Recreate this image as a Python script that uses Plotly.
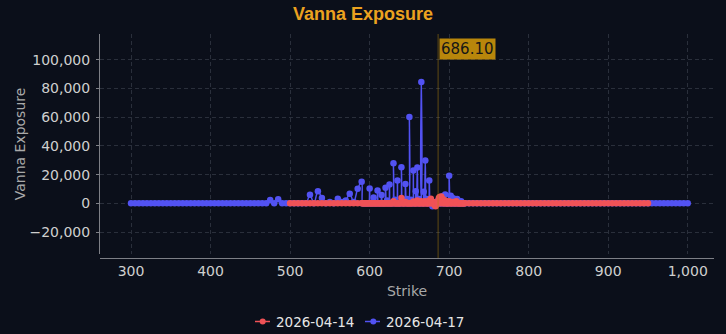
import plotly.graph_objects as go

# ---- data ----
spot_price = 686.10

# 2026-04-17 (blue): strike grid
blue_low_strikes = list(range(300, 590, 5))
blue_mid_strikes = list(range(590, 721, 1))
blue_high_strikes = list(range(725, 1001, 5))
# non-zero exposures (strike -> value); every other strike reads as 0
blue_nonzero_strikes = [475, 485, 525, 535, 540, 550, 560, 565, 570, 575, 580, 585, 590,
                        600, 605, 610, 615, 620, 622, 625, 630, 632, 635, 640, 642, 645,
                        647, 650, 652, 655, 658, 660, 662, 665, 668, 670, 672, 675, 677,
                        679, 685, 690, 692, 695, 700, 702, 705, 710, 715]
blue_nonzero_values = [2400, 2800, 5900, 8500, 3700, 1000, 3200, 1000, 2000, 6700, 1000, 10200, 15000,
                       10400, 4000, 9000, 5800, 10900, 2000, 13200, 28000, 2500, 16000, 25200, 2000, 13400,
                       3000, 60200, 2500, 22900, 8500, 25000, 3000, 84500, 8000, 29900, 3000, 16000, 2000,
                       -2000, 1500, 3500, 5000, 6200, 19200, 5300, 3500, 3000, 1500]

# 2026-04-14 (red): strike grid
red_low_strikes = list(range(500, 590, 5))
red_mid_strikes = list(range(590, 721, 1))
red_high_strikes = list(range(725, 951, 5))
red_nonzero_strikes = [630, 640, 645, 655, 660, 665, 670, 675, 677, 680, 682, 683, 685,
                       687, 688, 690, 692, 695, 700, 705, 709]
red_nonzero_values = [1500, 3700, 1000, 1200, 2000, 1500, 1500, 2000, 3200, 1000, -1500, -2000, 1000,
                      3500, 4500, 4800, 3000, 2000, 1500, 1000, 1500]

series_names = ["2026-04-14", "2026-04-17"]
x_tick_values = [300, 400, 500, 600, 700, 800, 900, 1000]
y_tick_values = [-20000, 0, 20000, 40000, 60000, 80000, 100000]

# ---- build series ----
blue_strikes = blue_low_strikes + blue_mid_strikes + blue_high_strikes
blue_map = dict(zip(blue_nonzero_strikes, blue_nonzero_values))
blue_values = [blue_map.get(s, 0) for s in blue_strikes]

red_strikes = red_low_strikes + red_mid_strikes + red_high_strikes
red_map = dict(zip(red_nonzero_strikes, red_nonzero_values))
red_values = [red_map.get(s, 0) for s in red_strikes]

BG = "#0b0f1a"
GRID = "#2a2f3b"
FONT = "DejaVu Sans"
BLUE = "#5252f2"
RED = "#f05257"
colors = [RED, BLUE]

W, H = 726, 334
ml, mr, mt, mb = 100, 12, 34, 76
plot_w = W - ml - mr
plot_h = H - mt - mb


def px_x(p):
    return (p - ml) / plot_w


def px_y(p):
    return (H - mb - p) / plot_h


fig = go.Figure()
fig.add_trace(go.Scatter(
    x=blue_strikes, y=blue_values, name=series_names[1],
    mode="lines+markers", line=dict(color=BLUE, width=1.5, shape="spline"),
    marker=dict(color=BLUE, size=6.5), showlegend=False,
))
fig.add_trace(go.Scatter(
    x=red_strikes, y=red_values, name=series_names[0],
    mode="lines+markers", line=dict(color=RED, width=1.5, shape="spline"),
    marker=dict(color=RED, size=6.5), showlegend=False,
))

fig.add_shape(type="line", xref="x", yref="paper", x0=spot_price, x1=spot_price,
              y0=0, y1=1, line=dict(color="rgba(184,134,11,0.5)", width=1))
fig.add_annotation(x=spot_price, xref="x", y=1, yref="paper", text=f"{spot_price:.2f}",
                   showarrow=False, xanchor="left", yanchor="top", xshift=1, yshift=-4,
                   bgcolor="#b8860b", font=dict(family=FONT, size=15, color="#161616"),
                   borderpad=1)

# custom legend (compact, like the reference)
legend_y = 321.5
legend_items = [(255, 262.7, 274), (365, 373.3, 384)]
for (lx, cx, tx), name, col in zip(legend_items, series_names, colors):
    fig.add_shape(type="line", xref="paper", yref="paper",
                  x0=px_x(lx), x1=px_x(lx + 15), y0=px_y(legend_y), y1=px_y(legend_y),
                  line=dict(color=col, width=1.5))
    fig.add_shape(type="circle", xref="paper", yref="paper",
                  xsizemode="pixel", ysizemode="pixel",
                  xanchor=px_x(cx), yanchor=px_y(legend_y),
                  x0=-3, x1=3, y0=-3, y1=3,
                  fillcolor=col, line=dict(color=col, width=0))
    fig.add_annotation(x=px_x(tx), y=px_y(legend_y), xref="paper", yref="paper",
                       text=name, showarrow=False, xanchor="left", yanchor="middle",
                       font=dict(family=FONT, size=13.5, color="#e6e6e6"))

fig.update_layout(
    width=W, height=H,
    margin=dict(l=ml, r=mr, t=mt, b=mb, autoexpand=False),
    paper_bgcolor=BG, plot_bgcolor=BG,
    font=dict(family=FONT, size=14, color="#cfcfcf"),
    title=dict(text="<b>Vanna Exposure</b>", x=0.5, xanchor="center",
               y=1 - 13.5 / H, yanchor="middle", yref="container",
               font=dict(family="Liberation Sans", size=18, color="#eba21f")),
    showlegend=False,
    xaxis=dict(
        range=[261, 1033], tickvals=x_tick_values, tickformat=",",
        showgrid=True, gridcolor=GRID, griddash="4px,3px", gridwidth=1,
        zeroline=False, showline=True, linecolor="#7d7f86", linewidth=1,
        ticks="", anchor="free", position=0, automargin=False,
        title=dict(text="Strike", font=dict(family=FONT, size=14, color="#a9a9a9"), standoff=8),
        tickfont=dict(family=FONT, size=14, color="#cfcfcf"),
    ),
    yaxis=dict(
        range=[-35300, 118000], tickvals=y_tick_values, tickformat=",",
        domain=[4 / plot_h, 1], automargin=False,
        showgrid=True, gridcolor=GRID, griddash="4px,3px", gridwidth=1,
        zeroline=False, showline=True, linecolor="#7d7f86", linewidth=1,
        ticks="outside", ticklen=3, tickcolor="#7d7f86", ticklabelstandoff=3,
        title=dict(text="Vanna Exposure", font=dict(family=FONT, size=14, color="#a9a9a9"),
                   standoff=0),
        tickfont=dict(family=FONT, size=14, color="#cfcfcf"),
    ),
)

fig.write_html("out.html")
